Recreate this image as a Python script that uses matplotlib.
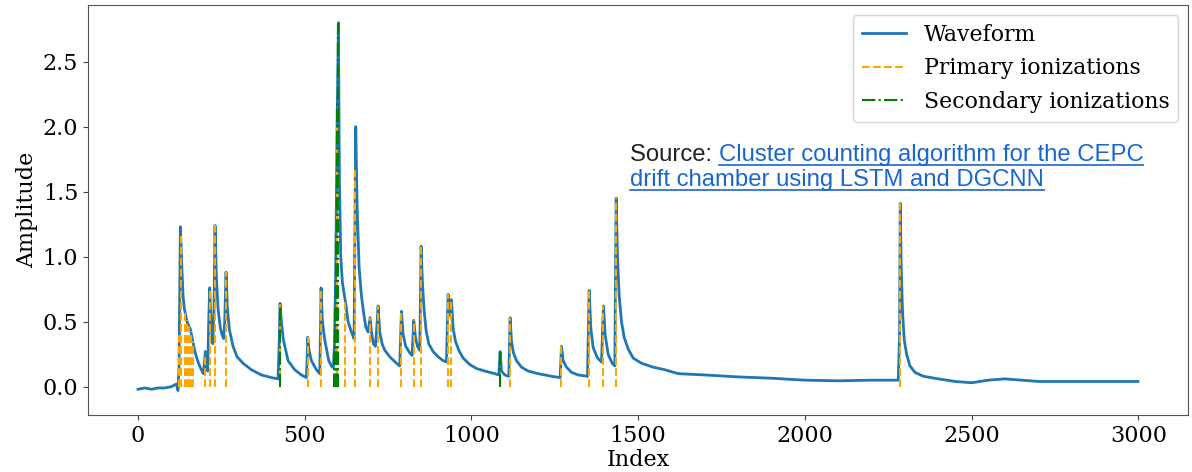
import numpy as np
import matplotlib
matplotlib.use("Agg")
import matplotlib.pyplot as plt
from matplotlib.lines import Line2D

wave_index = [
    0, 20, 40, 60, 80, 100, 115, 120, 123, 127, 131, 135, 139, 143, 147, 152,
    157, 162, 168, 175, 183, 190, 196, 199, 202, 206, 209, 212, 215, 219, 224,
    228, 231, 235, 240, 247, 252, 257, 260, 264, 268, 274, 285, 297, 315, 340,
    370, 400, 420, 423, 426, 430, 436, 450, 470, 490, 505, 507, 509, 513, 520,
    535, 545, 547, 549, 553, 560, 572, 582, 586, 589, 593, 597, 601, 604, 608,
    613, 618, 624, 630, 640, 648, 650, 653, 657, 663, 670, 676, 683, 690, 696,
    700, 706, 712, 716, 720, 725, 732, 740, 755, 775, 785, 790, 795, 803, 815,
    822, 827, 832, 838, 845, 849, 853, 858, 864, 872, 885, 900, 915, 925, 930,
    934, 940, 945, 952, 962, 975, 995, 1015, 1040, 1070, 1082, 1086, 1090,
    1100, 1112, 1116, 1120, 1126, 1135, 1150, 1170, 1200, 1240, 1266, 1270,
    1275, 1285, 1300, 1320, 1348, 1353, 1358, 1365, 1378, 1390, 1396, 1401,
    1410, 1422, 1430, 1434, 1438, 1443, 1450, 1458, 1470, 1485, 1510, 1545,
    1580, 1620, 1700, 1800, 1900, 2000, 2100, 2200, 2280, 2284, 2286, 2289,
    2293, 2298, 2305, 2315, 2330, 2355, 2400, 2450, 2500, 2550, 2600, 2650,
    2700, 2800, 2900, 2999,
]
wave_amp = [
    -0.02, -0.01, -0.02, -0.01, -0.01, 0.00, 0.02, -0.03, 0.15, 1.23, 0.95,
    0.70, 0.60, 0.55, 0.50, 0.47, 0.44, 0.38, 0.30, 0.23, 0.17, 0.13, 0.10,
    0.18, 0.27, 0.14, 0.12, 0.50, 0.76, 0.50, 0.33, 0.60, 1.24, 0.85, 0.60,
    0.45, 0.40, 0.37, 0.50, 0.88, 0.60, 0.44, 0.31, 0.23, 0.18, 0.13, 0.09,
    0.07, 0.06, 0.30, 0.64, 0.50, 0.36, 0.20, 0.13, 0.09, 0.07, 0.20, 0.38,
    0.28, 0.20, 0.13, 0.10, 0.40, 0.76, 0.50, 0.36, 0.20, 0.15, 0.15, 0.31,
    0.90, 2.00, 2.80, 1.60, 1.00, 0.80, 0.72, 0.62, 0.50, 0.42, 0.37, 1.00,
    2.00, 1.40, 0.92, 0.70, 0.58, 0.46, 0.42, 0.53, 0.42, 0.33, 0.31, 0.45,
    0.62, 0.42, 0.33, 0.28, 0.23, 0.18, 0.16, 0.58, 0.40, 0.31, 0.26, 0.24,
    0.51, 0.38, 0.31, 0.28, 1.08, 0.80, 0.59, 0.43, 0.33, 0.27, 0.23, 0.20,
    0.19, 0.71, 0.55, 0.67, 0.45, 0.35, 0.28, 0.22, 0.17, 0.14, 0.12, 0.10,
    0.09, 0.27, 0.12, 0.09, 0.08, 0.53, 0.35, 0.26, 0.20, 0.15, 0.12, 0.10,
    0.08, 0.07, 0.31, 0.20, 0.15, 0.11, 0.09, 0.08, 0.74, 0.45, 0.30, 0.22,
    0.19, 0.62, 0.40, 0.25, 0.18, 0.16, 1.45, 1.00, 0.70, 0.50, 0.38, 0.29,
    0.22, 0.18, 0.15, 0.13, 0.10, 0.09, 0.075, 0.065, 0.05, 0.045, 0.05, 0.05,
    0.40, 1.41, 0.90, 0.57, 0.36, 0.25, 0.16, 0.11, 0.08, 0.06, 0.04, 0.03,
    0.05, 0.06, 0.05, 0.04, 0.04, 0.04, 0.04,
]

# Ionization arrival indices
primary_idx = [124, 128, 140, 146, 152, 158, 164, 201, 215, 231, 264, 426,
               509, 549, 597, 622, 652, 696, 720, 790, 827, 849, 930, 940,
               1116, 1270, 1353, 1396, 1434, 2286]
secondary_idx = [426, 588, 591, 594, 598, 601, 1086]

x_ticks = [0, 500, 1000, 1500, 2000, 2500, 3000]
y_ticks = [0.0, 0.5, 1.0, 1.5, 2.0, 2.5]

source_prefix = "Source: "
source_line1 = "Cluster counting algorithm for the CEPC"
source_line2 = "drift chamber using LSTM and DGCNN"

plt.rcParams['font.family'] = 'DejaVu Serif'

W, H = 1192, 472
fig = plt.figure(figsize=(W / 100, H / 100), dpi=100)
ax = fig.add_axes([88 / W, 1 - 415 / H, 1100 / W, 410 / H])

wave_index = np.asarray(wave_index)
wave_amp = np.asarray(wave_amp)

ax.plot(wave_index, wave_amp, color='#1f77b4', lw=2.0, label='Waveform')
ax.vlines(primary_idx, 0, np.interp(primary_idx, wave_index, wave_amp),
          colors='orange', linestyles='--', lw=1.5,
          label='Primary ionizations')
ax.vlines(secondary_idx, 0, np.interp(secondary_idx, wave_index, wave_amp),
          colors='green', linestyles='-.', lw=1.5,
          label='Secondary ionizations')

ax.set_xticks(x_ticks)
ax.set_yticks(y_ticks)
ax.set_xlim(-150, 3149)
ax.set_ylim(-0.218, 2.936)
ax.tick_params(labelsize=16, color='#444444')
for s in ax.spines.values():
    s.set_color('#555555')
ax.set_xlabel('Index', fontsize=16, labelpad=2)
ax.set_ylabel('Amplitude', fontsize=16, labelpad=3)

leg = ax.legend(loc='upper right', fontsize=15.85, borderaxespad=0.45,
                labelspacing=0.53)
leg.get_frame().set_edgecolor('#cccccc')

# Source note with an underlined link
link_color = '#1a66cc'
fs = 17.2
x0 = 630 / W
y1, y2 = 161, 186
t0 = fig.text(x0, 1 - y1 / H, source_prefix, fontsize=fs,
              family='Liberation Sans', color='#222222', va='baseline')
fig.canvas.draw()
r = fig.canvas.get_renderer()
bb0 = t0.get_window_extent(r)
t1 = fig.text(bb0.x1 / W, 1 - y1 / H, source_line1, fontsize=fs,
              family='Liberation Sans', color=link_color, va='baseline')
t2 = fig.text(x0, 1 - y2 / H, source_line2, fontsize=fs,
              family='Liberation Sans', color=link_color, va='baseline')
fig.canvas.draw()
for t, ybase in ((t1, y1), (t2, y2)):
    bb = t.get_window_extent(r)
    yu = 1 - (ybase + 4) / H
    fig.add_artist(Line2D([bb.x0 / W, bb.x1 / W], [yu, yu],
                          transform=fig.transFigure, color=link_color, lw=1.2))

fig.savefig('out.png', dpi=100)
